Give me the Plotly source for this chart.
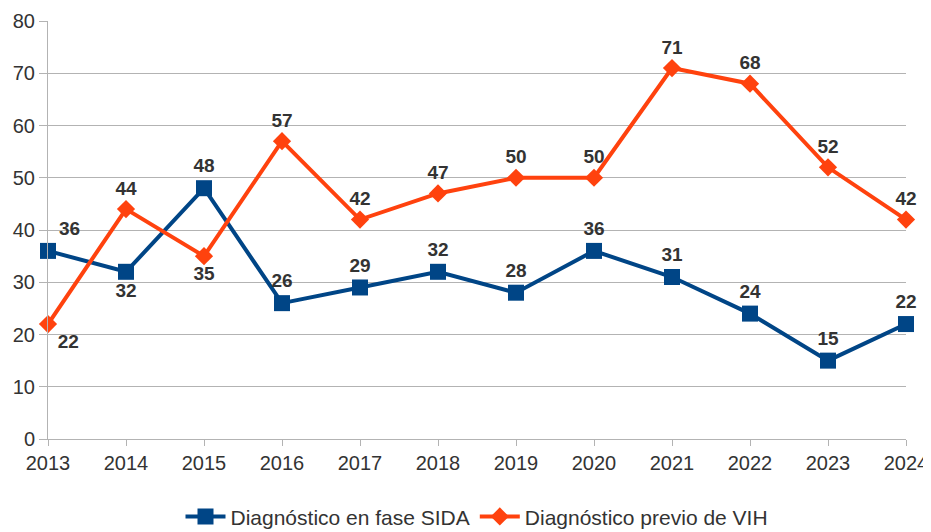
import plotly.graph_objects as go

years = [2013, 2014, 2015, 2016, 2017, 2018, 2019, 2020, 2021, 2022, 2023, 2024]
sida = [36, 32, 48, 26, 29, 32, 28, 36, 31, 24, 15, 22]
previo = [22, 44, 35, 57, 42, 47, 50, 50, 71, 68, 52, 42]
sida_name = "Diagnóstico en fase SIDA"
previo_name = "Diagnóstico previo de VIH"

sida_pos = ["top right", "bottom center"] + ["top center"] * 10
previo_pos = ["bottom right", "top center", "bottom center"] + ["top center"] * 9

FONT = "Liberation Sans, Arial, sans-serif"
label_font = dict(family=FONT, size=19, color="#333333", weight="bold")

fig = go.Figure()
fig.add_trace(go.Scatter(
    x=years, y=sida, name=sida_name, mode="lines+markers+text",
    line=dict(color="#004586", width=4),
    marker=dict(symbol="square", size=16, color="#004586"),
    text=[str(v) for v in sida], textposition=sida_pos, textfont=label_font,
    cliponaxis=False,
))
fig.add_trace(go.Scatter(
    x=years, y=previo, name=previo_name, mode="lines+markers+text",
    line=dict(color="#ff420e", width=4),
    marker=dict(symbol="diamond", size=14, color="#ff420e"),
    text=[str(v) for v in previo], textposition=previo_pos, textfont=label_font,
    cliponaxis=False,
))

# page body has an 8px default margin; figure sized/margined to compensate
fig.update_layout(
    width=923, height=524,
    margin=dict(l=40, r=25, t=13, b=93),
    plot_bgcolor="white", paper_bgcolor="white",
    font=dict(family=FONT, size=20, color="#333333"),
    showlegend=True,
    legend=dict(orientation="h", x=0.5, xanchor="center",
                yref="container", y=0.029, yanchor="middle",
                font=dict(size=21, color="#333333"), itemwidth=40),
    xaxis=dict(range=[2013, 2024], tickvals=years, ticktext=[str(y) for y in years],
               showgrid=False, showline=True, linecolor="#b3b3b3", linewidth=1,
               ticks="outside", ticklen=6, tickcolor="#b3b3b3", zeroline=False,
               automargin=False),
    yaxis=dict(range=[0, 80], dtick=10, showgrid=True, gridcolor="#b3b3b3", gridwidth=1,
               showline=True, linecolor="#b3b3b3", linewidth=1,
               ticks="outside", ticklen=8, tickcolor="#b3b3b3", zeroline=False,
               automargin=False),
)

fig.write_html("out.html")
